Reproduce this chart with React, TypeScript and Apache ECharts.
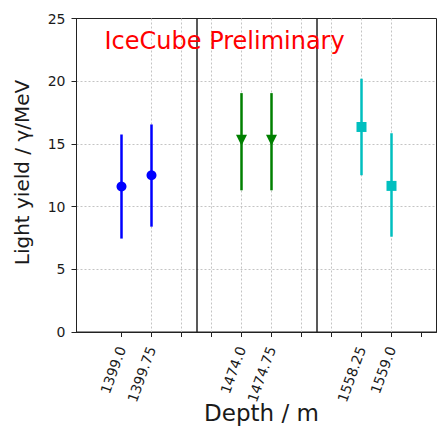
import React, { useEffect, useRef } from "react";
import * as echarts from "echarts";

// Tick positions (index along the depth axis) and their labels
const tickPositions = [0, 1, 4, 5, 8, 9];
const tickLabels = ["1399.0", "1399.75", "1474.0", "1474.75", "1558.25", "1559.0"];
const allTicks = [0, 1, 2, 3, 4, 5, 6, 7, 8, 9, 10];
const separators = [2.5, 6.5];

// Series: positions, central value, lower and upper error bounds
const blueX = [0, 1];
const blueY = [11.6, 12.5];
const blueLow = [7.45, 8.4];
const blueHigh = [15.75, 16.55];

const greenX = [4, 5];
const greenY = [15.3, 15.3];
const greenLow = [11.3, 11.3];
const greenHigh = [19.05, 19.05];

const cyanX = [8, 9];
const cyanY = [16.35, 11.65];
const cyanLow = [12.5, 7.6];
const cyanHigh = [20.2, 15.85];

const FONT = "DejaVu Sans";
const INK = "#1a1a1a";

function errorSeries(xs: number[], lo: number[], hi: number[], color: string) {
  return {
    type: "custom",
    data: xs.map((x, i) => [x, lo[i], hi[i]]),
    renderItem: (_p: any, api: any) => {
      const a = api.coord([api.value(0), api.value(1)]);
      const b = api.coord([api.value(0), api.value(2)]);
      return {
        type: "line",
        shape: { x1: a[0], y1: a[1], x2: b[0], y2: b[1] },
        style: { stroke: color, lineWidth: 2.5 },
      };
    },
    z: 3,
  };
}

function markerSeries(xs: number[], ys: number[], color: string, symbol: string, size: number, rotate = 0) {
  return {
    type: "scatter",
    data: xs.map((x, i) => [x, ys[i]]),
    symbol,
    symbolSize: size,
    symbolRotate: rotate,
    itemStyle: { color, opacity: 1 },
    z: 4,
  };
}

export default function App() {
  const ref = useRef<HTMLDivElement>(null);
  useEffect(() => {
    if (!ref.current) return;
    const chart = echarts.init(ref.current, null, { renderer: "svg" });
    chart.setOption({
      animation: false,
      backgroundColor: "#ffffff",
      grid: {
        left: 76.5,
        top: 18.5,
        right: 0.5,
        bottom: 95,
        show: true,
        borderColor: "#222",
        borderWidth: 1,
      },
      xAxis: {
        type: "value",
        min: -1.5,
        max: 10.5,
        axisLine: { show: true, onZero: false, lineStyle: { color: "#222", width: 1 } },
        axisTick: {
          show: true,
          inside: false,
          length: 5,
          customValues: allTicks,
          lineStyle: { color: "#222", width: 1 },
        },
        axisLabel: {
          customValues: tickPositions,
          formatter: (v: number) => {
            const i = tickPositions.indexOf(Math.round(v));
            return i >= 0 ? tickLabels[i] : "";
          },
          rotate: 70,
          margin: 15,
          fontFamily: FONT,
          fontSize: 14,
          color: INK,
        },
        splitLine: {
          show: true,
          showMinLine: false,
          showMaxLine: false,
          lineStyle: { color: "#c4c4c4", type: [2, 2], width: 1 },
        },
      },
      yAxis: {
        type: "value",
        min: 0,
        max: 25,
        interval: 5,
        axisLine: { show: true, onZero: false, lineStyle: { color: "#222", width: 1 } },
        axisTick: { show: true, inside: false, length: 5, lineStyle: { color: "#222", width: 1 } },
        axisLabel: { fontFamily: FONT, fontSize: 14, color: INK, margin: 11 },
        splitLine: {
          show: true,
          showMinLine: false,
          showMaxLine: false,
          lineStyle: { color: "#c4c4c4", type: [2, 2], width: 1 },
        },
      },
      graphic: [
        {
          type: "text",
          x: 104.5,
          y: 40.5,
          style: {
            text: "IceCube Preliminary",
            fontFamily: FONT,
            fontSize: 24,
            fill: "#ff0000",
            align: "left",
            verticalAlign: "middle",
          },
          z: 10,
        },
        {
          type: "text",
          x: 261.5,
          y: 413,
          style: {
            text: "Depth / m",
            fontFamily: FONT,
            fontSize: 23,
            fill: INK,
            align: "center",
            verticalAlign: "middle",
          },
        },
        {
          type: "text",
          x: 22,
          y: 172.5,
          rotation: Math.PI / 2,
          style: {
            text: "Light yield / γ/MeV",
            fontFamily: FONT,
            fontSize: 20,
            fill: INK,
            align: "center",
            verticalAlign: "middle",
          },
        },
      ],
      series: [
        {
          type: "line",
          data: [],
          markLine: {
            silent: true,
            symbol: "none",
            label: { show: false },
            lineStyle: { color: "#222", type: "solid", width: 1.5 },
            data: separators.map((s) => ({ xAxis: s })),
          },
          z: 2,
        },
        errorSeries(blueX, blueLow, blueHigh, "#0000ff"),
        errorSeries(greenX, greenLow, greenHigh, "#008000"),
        errorSeries(cyanX, cyanLow, cyanHigh, "#00bfbf"),
        markerSeries(blueX, blueY, "#0000ff", "circle", 10),
        markerSeries(greenX, greenY, "#008000", "triangle", 11, 180),
        markerSeries(cyanX, cyanY, "#00bfbf", "rect", 10),
      ],
    });
    return () => chart.dispose();
  }, []);
  return (
    <div
      ref={ref}
      style={{ position: "fixed", left: 0, top: 0, width: 437, height: 427 }}
    />
  );
}
